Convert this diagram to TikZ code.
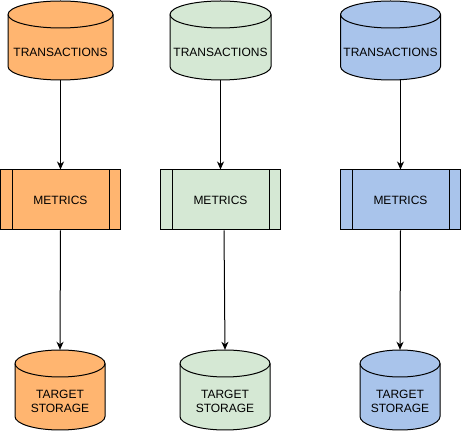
\documentclass[tikz,border=0pt]{standalone}
\usepackage{fontspec}
\setmainfont{Liberation Sans}
\usetikzlibrary{arrows.meta}
\definecolor{orangefill}{HTML}{FFB570}
\definecolor{greenfill}{HTML}{D5E8D4}
\definecolor{bluefill}{HTML}{A9C4EB}
\newcommand\dbcyl[6]{% name, cx, ytop, ybot, rx, fill
  \path[cylline, fill=#6] ({#2-#5},{#3-13.5}) -- ({#2-#5},{#4+13.5})
     arc (180:360:{#5pt} and 13.5pt) -- ({#2+#5},{#3-13.5})
     arc (0:180:{#5pt} and 13.5pt) -- cycle;
  \draw[cylline] ({#2-#5},{#3-13.5}) arc (180:360:{#5pt} and 13.5pt);
  \node[inner sep=0pt, minimum width={2*#5pt}, minimum height={(#3-#4)*1pt}] (#1) at (#2,{(#3+#4)/2}) {};
}
\tikzset{
  cylline/.style={draw=black, line width=1pt},
  lbl/.style={font=\fontsize{12}{14}\selectfont, align=center, inner sep=0pt},
  procbox/.style={draw=black, line width=1pt, minimum width=120pt, minimum height=60pt, inner sep=0pt},
  conn/.style={draw=black, line width=1pt, -{Stealth[length=8pt,width=7pt,inset=2.5pt]}},
}
\begin{document}
\begin{tikzpicture}[x=1pt,y=1pt]
\useasboundingbox (0,0) rectangle (461,431);
% source cylinders
\dbcyl{t1}{60.5}{430}{351}{52.5}{orangefill}
\dbcyl{t2}{220.5}{430}{351}{50.5}{greenfill}
\dbcyl{t3}{390.5}{430}{351}{50}{bluefill}
\node[lbl] (t1l) at (60.5,379) {TRANSACTIONS};
\node[lbl] (t2l) at (220.5,379) {TRANSACTIONS};
\node[lbl] (t3l) at (390.5,379) {TRANSACTIONS};
% metrics boxes
\foreach \nm/\cx/\col in {m1/60.5/orangefill, m2/220.5/greenfill, m3/400.5/bluefill}{
  \node[procbox, fill=\col] (\nm) at (\cx,231) {};
  \draw[line width=1pt] ([xshift=12pt]\nm.north west) -- ([xshift=12pt]\nm.south west);
  \draw[line width=1pt] ([xshift=-12pt]\nm.north east) -- ([xshift=-12pt]\nm.south east);
  \node[lbl] at (\nm) {METRICS};
}
% target cylinders
\dbcyl{s1}{60}{81}{1}{45}{orangefill}
\dbcyl{s2}{225}{81}{1}{45}{greenfill}
\dbcyl{s3}{400}{81}{1}{40}{bluefill}
\node[lbl] (s1l) at (60,29.5) {TARGET\\STORAGE};
\node[lbl] (s2l) at (225,29.5) {TARGET\\STORAGE};
\node[lbl] (s3l) at (400,29.5) {TARGET\\STORAGE};
% connectors
\draw[conn] (t1.south) -- (m1.north);
\draw[conn] (t2.south) -- (m2.north);
\draw[conn] (m3.north |- t3.south) -- (m3.north);
\draw[conn] (m1.south) -- (s1.north);
\draw[conn] ([xshift=3.5pt]m2.south) -- (s2.north);
\draw[conn] (m3.south) -- (s3.north);
\end{tikzpicture}
\end{document}
